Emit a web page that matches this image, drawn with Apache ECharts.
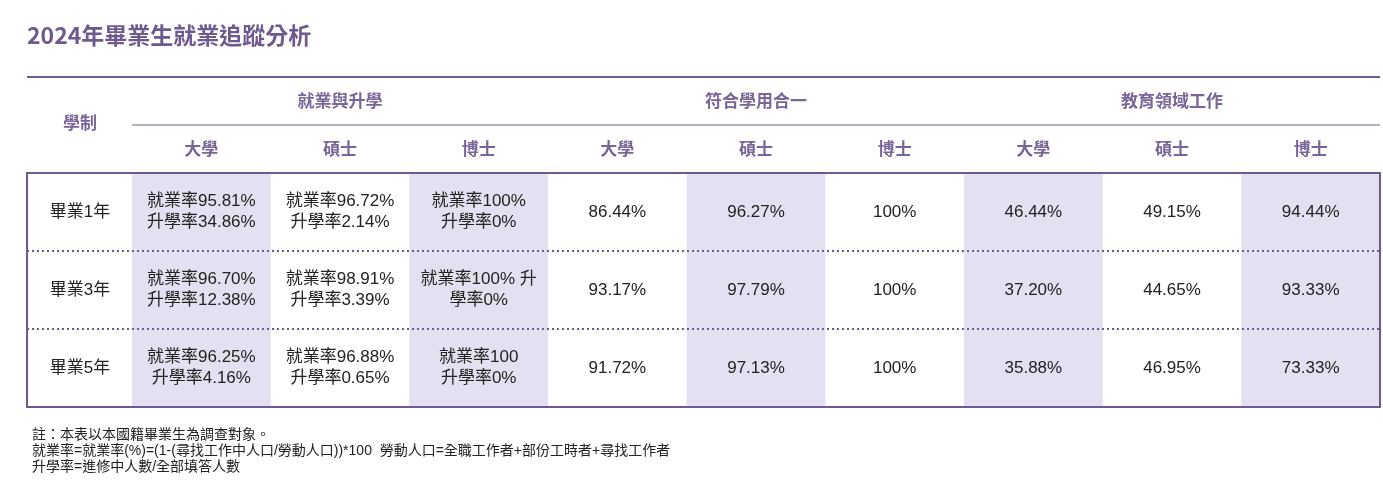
<!DOCTYPE html>
<html><head><meta charset="utf-8">
<script src="https://cdn.jsdelivr.net/npm/echarts@6/dist/echarts.min.js"></script>
<style>html,body{margin:0;padding:0;background:#fff}#c{width:1383px;height:499px}</style>
</head><body><div id="c"></div>
<script>
const rows = ['畢業1年','畢業3年','畢業5年'];
const groups = ['就業與升學','符合學用合一','教育領域工作'];
const subCols = ['大學','碩士','博士','大學','碩士','博士','大學','碩士','博士'];
const empUni = ['就業率95.81%\n升學率34.86%','就業率96.70%\n升學率12.38%','就業率96.25%\n升學率4.16%'];
const empMaster = ['就業率96.72%\n升學率2.14%','就業率98.91%\n升學率3.39%','就業率96.88%\n升學率0.65%'];
const empPhd = ['就業率100%\n升學率0%','就業率100% 升\n學率0%','就業率100\n升學率0%'];
const matchUni = ['86.44%','93.17%','91.72%'];
const matchMaster = ['96.27%','97.79%','97.13%'];
const matchPhd = ['100%','100%','100%'];
const eduUni = ['46.44%','37.20%','35.88%'];
const eduMaster = ['49.15%','44.65%','46.95%'];
const eduPhd = ['94.44%','93.33%','73.33%'];
const shadedCols = [0,2,4,6,8];
const notes = ['註：本表以本國籍畢業生為調查對象。','就業率=就業率(%)=(1-(尋找工作中人口/勞動人口))*100  勞動人口=全職工作者+部份工時者+尋找工作者','升學率=進修中人數/全部填答人數'];

const colsData = [empUni,empMaster,empPhd,matchUni,matchMaster,matchPhd,eduUni,eduMaster,eduPhd];
const data = [];
colsData.forEach((col,ci)=>col.forEach((v,ri)=>data.push([ci,ri,v])));

const P = '#6f5a8f', PT = '#7a6598', SH = '#e4e0f1';
const FF = '"Noto Sans CJK TC","Noto Sans",sans-serif';
const FB = '"Liberation Sans","Noto Sans CJK TC",sans-serif';
const L = 132, R = 1380, T = 173, B = 407;
const cw = (R-L)/9;

const graphics = [
  {type:'text',left:27,top:24,style:{text:'2024年畢業生就業追蹤分析',fill:P,font:'bold 23px '+FF}},
  {type:'line',shape:{x1:27,y1:77,x2:R,y2:77},style:{stroke:P,lineWidth:2}},
  {type:'line',shape:{x1:L,y1:125,x2:R,y2:125},style:{stroke:P,lineWidth:1}},
  {type:'text',x:80,y:123,style:{text:'學制',fill:PT,font:'bold 17px '+FF,align:'center',verticalAlign:'middle'}},
  {type:'rect',shape:{x:27,y:T,width:R-27,height:B-T},style:{fill:'none',stroke:P,lineWidth:2},z:10},
  {type:'line',shape:{x1:27,y1:251,x2:R,y2:251},style:{stroke:P,lineWidth:2,lineDash:[2,3]},z:10},
  {type:'line',shape:{x1:27,y1:329,x2:R,y2:329},style:{stroke:P,lineWidth:2,lineDash:[2,3]},z:10}
];
groups.forEach((g,i)=>graphics.push({type:'text',x:L+cw*(3*i+1.5),y:101,style:{text:g,fill:PT,font:'bold 17px '+FF,align:'center',verticalAlign:'middle'}}));
notes.forEach((n,i)=>graphics.push({type:'text',left:32,top:428+i*16,style:{text:n,fill:'#222',font:'14px '+FB}}));

const chart = echarts.init(document.getElementById('c'));
chart.setOption({
  animation:false,
  grid:{left:L,right:1383-R,top:T,bottom:499-B},
  xAxis:{type:'category',data:subCols,position:'top',axisLine:{show:false},axisTick:{show:false},splitLine:{show:false},
    axisLabel:{margin:16,color:PT,fontWeight:'bold',fontSize:17,fontFamily:FF}},
  yAxis:{type:'category',data:rows,inverse:true,axisLine:{show:false},axisTick:{show:false},splitLine:{show:false},
    axisLabel:{margin:52,align:'center',color:'#222',fontSize:17,fontFamily:FB}},
  graphic:graphics,
  series:[{type:'custom',data:data,renderItem:function(params,api){
    const ci=api.value(0), ri=api.value(1);
    const c=api.coord([ci,ri]); const s=api.size([1,1]);
    const txt=data[params.dataIndex][2];
    const ch=[];
    if(shadedCols.indexOf(ci)>=0) ch.push({type:'rect',shape:{x:c[0]-s[0]/2,y:c[1]-s[1]/2,width:s[0],height:s[1]},style:{fill:SH}});
    ch.push({type:'text',x:c[0],y:c[1],style:{text:txt,fill:'#222',font:'17px '+FB,align:'center',verticalAlign:'middle',lineHeight:21}});
    return {type:'group',children:ch};
  }}]
});
</script></body></html>
